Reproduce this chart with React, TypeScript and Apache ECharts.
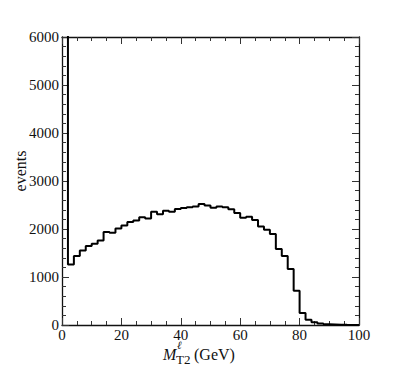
import React, { useEffect, useRef } from "react";
import * as echarts from "echarts";

// Histogram of M_T2^l, 2 GeV bins from 0 to 100 GeV
const binWidth = 2;
const counts = [
  9000, 1260, 1440, 1550, 1645, 1695, 1760, 1935, 1920, 2010,
  2075, 2145, 2175, 2245, 2220, 2360, 2305, 2380, 2360, 2415,
  2440, 2455, 2470, 2520, 2490, 2445, 2470, 2455, 2410, 2335,
  2235, 2255, 2185, 2050, 1985, 1895, 1585, 1435, 1165, 715,
  250, 110, 55, 30, 15, 10, 5, 3, 2, 1,
];
const xTicks = [0, 20, 40, 60, 80, 100];
const yTicks = [0, 1000, 2000, 3000, 4000, 5000, 6000];

const FONT = "Liberation Serif";

export default function App() {
  const ref = useRef<HTMLDivElement>(null);
  useEffect(() => {
    if (!ref.current) return;
    const chart = echarts.init(ref.current, undefined, { renderer: "svg" });
    const data: [number, number][] = counts.map((c, i) => [i * binWidth, c]);
    data.push([counts.length * binWidth, counts[counts.length - 1]]);

    const tickStyle = { color: "#333", width: 1 };
    const xCommon = {
      type: "value" as const,
      min: xTicks[0],
      max: xTicks[xTicks.length - 1],
      interval: xTicks[1] - xTicks[0],
      splitLine: { show: false },
      axisLine: { show: true, onZero: false, lineStyle: { color: "#111", width: 1.3 } },
      axisTick: { show: true, inside: true, length: 7, lineStyle: tickStyle },
      minorTick: { show: true, splitNumber: 4, length: 4, lineStyle: tickStyle },
    };
    const yCommon = {
      type: "value" as const,
      min: yTicks[0],
      max: yTicks[yTicks.length - 1],
      interval: yTicks[1] - yTicks[0],
      splitLine: { show: false },
      axisLine: { show: true, onZero: false, lineStyle: { color: "#111", width: 1.3 } },
      axisTick: { show: true, inside: true, length: 7, lineStyle: tickStyle },
      minorTick: { show: true, splitNumber: 5, length: 4, lineStyle: tickStyle },
    };
    const labelStyle = {
      show: true,
      margin: 4,
      color: "#111",
      fontFamily: FONT,
      fontSize: 15,
      lineHeight: 12,
      formatter: (v: number) => String(v),
    };
    const txt = (text: string, x: number, y: number, size: number, italic = false, rot = 0, lh = 0) => ({
      type: "text",
      x,
      y,
      rotation: rot,
      style: {
        text,
        fill: "#111",
        fontFamily: FONT,
        fontSize: size,
        lineHeight: lh || Math.round(size * 0.85),
        fontStyle: italic ? "italic" : "normal",
        align: rot ? "center" : "left",
        verticalAlign: "middle",
      },
    });

    chart.setOption({
      animation: false,
      backgroundColor: "#fff",
      textStyle: { fontFamily: FONT },
      grid: { left: 62, right: 40, top: 37, bottom: 47, containLabel: false },
      xAxis: [
        { ...xCommon, position: "bottom", axisLabel: labelStyle },
        { ...xCommon, position: "top", axisLabel: { show: false } },
      ],
      yAxis: [
        { ...yCommon, position: "left", axisLabel: { ...labelStyle, margin: 3 } },
        { ...yCommon, position: "right", axisLabel: { show: false } },
      ],
      graphic: [
        txt("events", 20, 171, 16, false, Math.PI / 2),
        txt("M", 163, 354, 16, true),
        txt("ℓ", 177, 345, 11, true, 0, 8),
        txt("T2", 176, 359, 13),
        txt("(GeV)", 194, 354, 16),
      ],
      series: [
        {
          type: "line",
          xAxisIndex: 0,
          yAxisIndex: 0,
          step: "end",
          data,
          symbol: "none",
          clip: true,
          lineStyle: { color: "#000", width: 2 },
        },
      ],
    });
    return () => chart.dispose();
  }, []);
  return <div ref={ref} style={{ width: 399, height: 372, margin: -8 }} />;
}
